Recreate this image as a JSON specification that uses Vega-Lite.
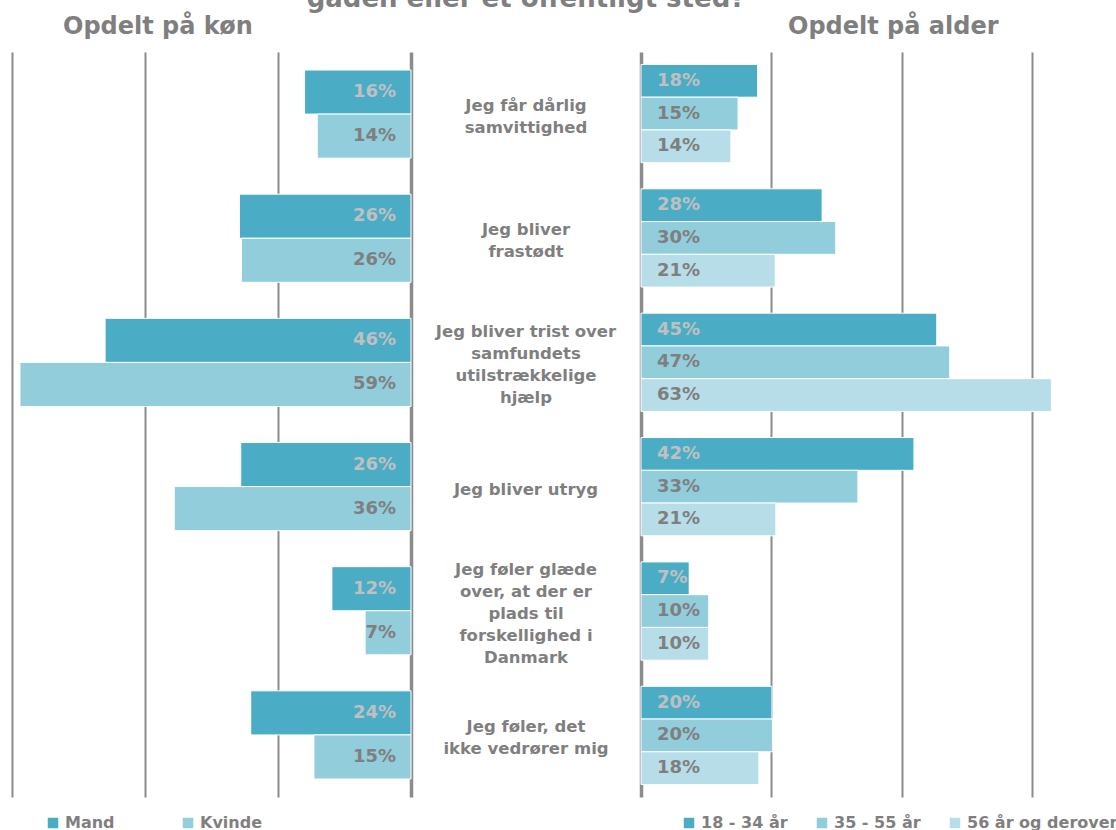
{
  "$schema": "https://vega.github.io/schema/vega-lite/v6.json",
  "padding": {"left": 12, "top": -14, "right": 0, "bottom": 0},
  "background": "white",
  "spacing": 0,
  "bounds": "flush",
  "config": {"view": {"stroke": null}, "font": "DejaVu Sans"},
  "resolve": {"scale": {"color": "independent", "x": "independent", "y": "independent", "yOffset": "independent"}, "legend": {"color": "independent"}},
  "datasets": {
    "kon": [
      {"kat": "samvittighed", "gruppe": "Mand", "value": 0.16},
      {"kat": "samvittighed", "gruppe": "Kvinde", "value": 0.141},
      {"kat": "frastødt", "gruppe": "Mand", "value": 0.258},
      {"kat": "frastødt", "gruppe": "Kvinde", "value": 0.255},
      {"kat": "trist", "gruppe": "Mand", "value": 0.46},
      {"kat": "trist", "gruppe": "Kvinde", "value": 0.588},
      {"kat": "utryg", "gruppe": "Mand", "value": 0.256},
      {"kat": "utryg", "gruppe": "Kvinde", "value": 0.356},
      {"kat": "glæde", "gruppe": "Mand", "value": 0.119},
      {"kat": "glæde", "gruppe": "Kvinde", "value": 0.069},
      {"kat": "vedrører", "gruppe": "Mand", "value": 0.241},
      {"kat": "vedrører", "gruppe": "Kvinde", "value": 0.146}
    ],
    "alder": [
      {"kat": "samvittighed", "gruppe": "18 - 34 år", "value": 0.179},
      {"kat": "samvittighed", "gruppe": "35 - 55 år", "value": 0.149},
      {"kat": "samvittighed", "gruppe": "56 år og derover", "value": 0.138},
      {"kat": "frastødt", "gruppe": "18 - 34 år", "value": 0.278},
      {"kat": "frastødt", "gruppe": "35 - 55 år", "value": 0.299},
      {"kat": "frastødt", "gruppe": "56 år og derover", "value": 0.206},
      {"kat": "trist", "gruppe": "18 - 34 år", "value": 0.454},
      {"kat": "trist", "gruppe": "35 - 55 år", "value": 0.474},
      {"kat": "trist", "gruppe": "56 år og derover", "value": 0.63},
      {"kat": "utryg", "gruppe": "18 - 34 år", "value": 0.419},
      {"kat": "utryg", "gruppe": "35 - 55 år", "value": 0.333},
      {"kat": "utryg", "gruppe": "56 år og derover", "value": 0.207},
      {"kat": "glæde", "gruppe": "18 - 34 år", "value": 0.074},
      {"kat": "glæde", "gruppe": "35 - 55 år", "value": 0.104},
      {"kat": "glæde", "gruppe": "56 år og derover", "value": 0.104},
      {"kat": "vedrører", "gruppe": "18 - 34 år", "value": 0.201},
      {"kat": "vedrører", "gruppe": "35 - 55 år", "value": 0.202},
      {"kat": "vedrører", "gruppe": "56 år og derover", "value": 0.181}
    ],
    "kategorier": [
      {"kat": "samvittighed", "label": "Jeg får dårlig\nsamvittighed"},
      {"kat": "frastødt", "label": "Jeg bliver\nfrastødt"},
      {"kat": "trist", "label": "Jeg bliver trist over\nsamfundets\nutilstrækkelige\nhjælp"},
      {"kat": "utryg", "label": "Jeg bliver utryg"},
      {"kat": "glæde", "label": "Jeg føler glæde\nover, at der er\nplads til\nforskellighed i\nDanmark"},
      {"kat": "vedrører", "label": "Jeg føler, det\nikke vedrører mig"}
    ]
  },
  "hconcat": [
    {
      "width": 399,
      "height": 745,
      "title": {"text": "Opdelt på køn", "anchor": "start", "frame": "group", "dx": 51, "offset": 13, "fontSize": 24, "fontWeight": "bold", "color": "#7f7f7f"},
      "data": {"name": "kon"},
      "encoding": {
        "y": {"field": "kat", "type": "nominal", "sort": ["samvittighed", "frastødt", "trist", "utryg", "glæde", "vedrører"], "axis": null, "scale": {"paddingInner": 0.29, "paddingOuter": 0.145}},
        "yOffset": {"field": "gruppe", "type": "nominal", "sort": ["Mand", "Kvinde"], "scale": {"paddingInner": 0, "paddingOuter": 0}},
        "x": {"field": "value", "type": "quantitative", "scale": {"domain": [0, 0.6], "reverse": true}, "axis": {"values": [0, 0.2, 0.4, 0.6], "grid": true, "labels": false, "ticks": false, "domain": false, "title": null, "gridColor": "#8c8c8c", "gridWidth": {"condition": {"test": "datum.value === 0", "value": 3.5}, "value": 2}}}
      },
      "layer": [
        {
          "mark": {"type": "bar", "stroke": "white", "strokeWidth": 1},
          "encoding": {
            "color": {"field": "gruppe", "type": "nominal", "scale": {"domain": ["Mand", "Kvinde"], "range": ["#4BACC6", "#92CDDC"]}, "legend": {"orient": "none", "legendX": 33, "legendY": 763, "direction": "horizontal", "title": null, "symbolType": "square", "symbolSize": 110, "symbolStrokeWidth": 0, "labelFontSize": 16, "labelFontWeight": "bold", "labelColor": "#7f7f7f", "columnPadding": 65, "padding": 0, "labelOffset": 4}}
          }
        },
        {
          "mark": {"type": "text", "align": "right", "dx": -15, "fontSize": 18, "fontWeight": "bold", "baseline": "middle"},
          "encoding": {
            "x": {"datum": 0},
            "text": {"field": "value", "type": "quantitative", "format": ".0%"},
            "color": {"condition": {"test": "datum.gruppe === 'Mand'", "value": "#c0c0c0"}, "value": "#7f7f7f"}
          }
        }
      ]
    },
    {
      "width": 230,
      "height": 745,
      "title": {"text": "gaden eller et offentligt sted?", "offset": 40, "fontSize": 26, "fontWeight": "bold", "color": "#7f7f7f"},
      "data": {"name": "kategorier"},
      "mark": {"type": "text", "lineBreak": "\n", "fontSize": 16.5, "fontWeight": "bold", "color": "#7f7f7f", "lineHeight": 22, "align": "center", "baseline": "middle", "dy": {"expr": "-(length(split(datum.label, '\\n')) - 1) * 11 + 3"}},
      "encoding": {
        "y": {"field": "kat", "type": "nominal", "sort": ["samvittighed", "frastødt", "trist", "utryg", "glæde", "vedrører"], "axis": null, "scale": {"paddingInner": 0.29, "paddingOuter": 0.145}},
        "x": {"datum": 0, "type": "quantitative", "scale": {"domain": [-1, 1]}, "axis": null},
        "text": {"field": "label", "type": "nominal"}
      }
    },
    {
      "width": 456,
      "height": 745,
      "title": {"text": "Opdelt på alder", "anchor": "start", "frame": "group", "dx": 147, "offset": 13, "fontSize": 24, "fontWeight": "bold", "color": "#7f7f7f"},
      "data": {"name": "alder"},
      "encoding": {
        "y": {"field": "kat", "type": "nominal", "sort": ["samvittighed", "frastødt", "trist", "utryg", "glæde", "vedrører"], "axis": null, "scale": {"paddingInner": 0.21, "paddingOuter": 0.1}},
        "yOffset": {"field": "gruppe", "type": "nominal", "sort": ["18 - 34 år", "35 - 55 år", "56 år og derover"], "scale": {"paddingInner": 0, "paddingOuter": 0}},
        "x": {"field": "value", "type": "quantitative", "scale": {"domain": [0, 0.7]}, "axis": {"values": [0, 0.2, 0.4, 0.6], "grid": true, "labels": false, "ticks": false, "domain": false, "title": null, "gridColor": "#8c8c8c", "gridWidth": {"condition": {"test": "datum.value === 0", "value": 3.5}, "value": 2}}}
      },
      "layer": [
        {
          "mark": {"type": "bar", "stroke": "white", "strokeWidth": 1},
          "encoding": {
            "color": {"field": "gruppe", "type": "nominal", "scale": {"domain": ["18 - 34 år", "35 - 55 år", "56 år og derover"], "range": ["#4BACC6", "#92CDDC", "#B7DEE8"]}, "legend": {"orient": "none", "legendX": 40, "legendY": 763, "direction": "horizontal", "title": null, "symbolType": "square", "symbolSize": 110, "symbolStrokeWidth": 0, "labelFontSize": 16, "labelFontWeight": "bold", "labelColor": "#7f7f7f", "columnPadding": 26, "padding": 0, "labelOffset": 4}}
          }
        },
        {
          "mark": {"type": "text", "align": "left", "dx": 16, "fontSize": 18, "fontWeight": "bold", "baseline": "middle"},
          "encoding": {
            "x": {"datum": 0},
            "text": {"field": "value", "type": "quantitative", "format": ".0%"},
            "color": {"condition": {"test": "datum.gruppe === '18 - 34 år'", "value": "#c0c0c0"}, "value": "#7f7f7f"}
          }
        }
      ]
    }
  ]
}
